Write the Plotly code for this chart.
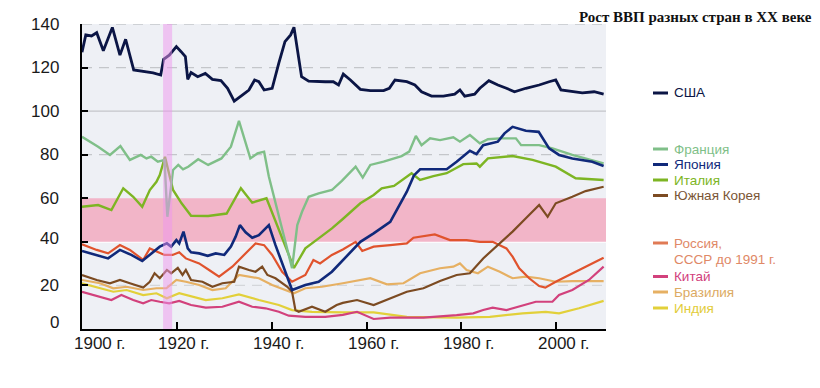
import plotly.graph_objects as go

# ---------------- data (index values) ----------------
usa_years = [1900, 1900.8, 1902, 1903.1, 1904.5, 1906.4, 1908, 1909.2, 1910.9, 1913.6, 1915, 1916.6,
             1917.2, 1918.4, 1919.9, 1920.9, 1921.8, 1922.3, 1923, 1924.4, 1926, 1927.5, 1929.3, 1930.7,
             1932.1, 1933.8, 1935.2, 1936.4, 1937.3, 1938.4, 1940.1, 1941.5, 1942.8, 1944, 1944.7, 1946.3,
             1947.8, 1951.3, 1953, 1954.1, 1955.1, 1956.6, 1958.7, 1960.8, 1963.6, 1964.8, 1966, 1968.5,
             1970.2, 1971.6, 1973.7, 1976.2, 1978.6, 1979.7, 1980.7, 1982.8, 1983.9, 1985.8, 1987.7, 1989.5,
             1991.2, 1993.6, 1996.4, 1998.5, 1999.9, 2001, 2003.4, 2005.5, 2008, 2010]
usa_vals = [127, 135, 134.5, 136, 127.7, 138.4, 125.7, 133, 118.9, 118, 117.6, 116.6,
            123.8, 125.7, 129.6, 127.3, 125, 114.6, 117.7, 115.8, 117.3, 114.6, 114, 110.5,
            104.6, 107.4, 109.7, 114.3, 113.5, 109.7, 110.5, 122, 131.9, 135, 138.5, 115.8,
            113.8, 113.5, 113.5, 112, 117, 114.3, 110, 109.4, 109.4, 110.5, 114.3, 113.5,
            112, 108.9, 106.9, 106.9, 107.8, 109.7, 106.9, 107.8, 110.5, 114, 112, 110.5,
            108.9, 110.5, 112, 113.5, 114.3, 109.7, 108.9, 108.4, 108.9, 107.8]

france_years = [1900, 1903.4, 1905.9, 1908.1, 1910.1, 1912.4, 1913.6, 1914.6, 1916, 1917.4, 1918, 1919.2,
                1920.3, 1921.3, 1922.4, 1923.4, 1924.5, 1926.6, 1929.4, 1931.4, 1933.1, 1935.5, 1937,
                1938.4, 1939.4, 1944.3, 1945.4, 1946.4, 1947.8, 1949.9, 1952.7, 1954.8, 1957.7, 1959.2,
                1960.8, 1963.6, 1967.4, 1969, 1970.4, 1971.6, 1973.4, 1975.5, 1978.3, 1979.7, 1981.8,
                1983.9, 1985.6, 1988.1, 1991.5, 1992.6, 1996.4, 1999.2, 2003.4, 2010]
france_vals = [88.2, 83.7, 79.9, 84, 77.6, 79.9, 78.3, 79.1, 76.8, 77.6, 51.5, 73,
               75.3, 73.3, 74.5, 76.3, 77.9, 75.3, 78.3, 83.7, 95.5, 78.3, 80.6,
               81.4, 70, 27.9, 47.7, 53.8, 60.7, 62.3, 63.8, 68, 74.5, 69.5,
               75.3, 76.8, 79.4, 81.4, 88.6, 84.4, 87.5, 86.7, 88, 86, 89,
               85.2, 87.1, 87.5, 87.5, 84.4, 84.4, 82.9, 79.9, 76]

japan_years = [1900, 1903.1, 1905.5, 1908, 1910.4, 1912.7, 1914.6, 1916.4, 1917.9, 1918.8, 1919.9, 1920.5,
               1921.4, 1922.3, 1923, 1924.7, 1926.5, 1928.2, 1930, 1931.4, 1932.4, 1933.3, 1934.5, 1935.9,
               1937.3, 1938.6, 1939.4, 1940.8, 1944.3, 1947.1, 1949.9, 1952.7, 1955, 1958.7, 1961.5, 1965,
               1968.5, 1970, 1971.3, 1976.9, 1979, 1981.8, 1983.2, 1984.6, 1987.7, 1989.1, 1990.8, 1993.6,
               1996.3, 1998.5, 2000.6, 2003.4, 2007.6, 2010]
japan_vals = [35.8, 34, 32.4, 36.3, 34, 31.2, 34.7, 37.8, 39.3, 37.8, 40.8, 39.3,
              44.7, 37, 35.2, 34.7, 33.6, 34.7, 34, 37.8, 42.4, 47.7, 44.4, 41.9,
              43.1, 45.9, 47.7, 38.5, 17.9, 20.2, 21.7, 26.3, 31.5, 40, 43.9, 49.2,
              63, 70.5, 73.3, 73.3, 76.8, 81.8, 80.3, 84.4, 86, 89.8, 92.8, 91,
              90.5, 82.9, 79.9, 78.3, 76.8, 74.8]

italy_years = [1900, 1903.4, 1906.2, 1908.7, 1910.8, 1912.7, 1914.3, 1915.7, 1916.4, 1917.5, 1919.2, 1921,
               1923, 1926.6, 1930.5, 1933.5, 1935.9, 1938.9, 1944.7, 1947.1, 1949.9, 1952.7, 1955, 1958.7,
               1961.5, 1963.2, 1965.8, 1969.5, 1971.3, 1974.1, 1976.9, 1980.4, 1983.2, 1983.9, 1985.6,
               1990.8, 1995, 1999.9, 2004.1, 2010]
italy_vals = [56.1, 56.9, 54.6, 64.6, 60.7, 56.1, 63.8, 67.6, 70.7, 79, 63.8, 57.7,
              52, 51.9, 53, 64.6, 58, 60, 28, 37, 41.6, 46.2, 50.5, 57.7,
              61.5, 64.6, 65.7, 71.5, 68.4, 70.2, 71.5, 75.7, 76, 74.5, 78.3,
              79.4, 77.6, 74.5, 69.2, 68.4]

korea_years = [1900, 1903.1, 1905.9, 1908, 1910.1, 1912.9, 1914.3, 1915.3, 1916.4, 1917.9, 1918.8, 1920.2,
               1921.2, 1921.9, 1923, 1925.4, 1927.5, 1929.6, 1932.1, 1933.1, 1935.2, 1936.6, 1938, 1939.1,
               1940.8, 1943.3, 1944.3, 1945, 1945.7, 1948.5, 1951.3, 1953.7, 1955, 1958, 1961.5, 1965,
               1968.5, 1972, 1975.5, 1979, 1981.8, 1984.6, 1988.1, 1990.8, 1993.6, 1996.4, 1998.2, 1999.9,
               2003.4, 2006.2, 2010]
korea_vals = [24.8, 22.5, 21, 22.5, 21, 19, 21.7, 25.6, 23.3, 27.1, 25.6, 28.1,
              24.8, 27.1, 22.5, 21.7, 19.4, 21, 21.7, 28.6, 27.1, 26.3, 28.6, 24.8,
              23.3, 19.4, 17.1, 8.7, 7.9, 10.2, 7.9, 11, 12, 13.3, 11, 14.1,
              17.1, 18.7, 22, 24.8, 25.6, 32.4, 39.3, 44.7, 50.8, 56.9, 51.5, 57.7,
              60.7, 63.3, 65.3]

russia_years = [1900, 1903.1, 1905.5, 1908, 1910.1, 1912.9, 1914.3, 1916, 1917.4, 1919.1, 1920.5, 1921.9,
                1924.7, 1926.8, 1928.9, 1931.7, 1934.5, 1936.6, 1938.4, 1940.1, 1942.2, 1944.3, 1947.1,
                1948.8, 1950.2, 1952.7, 1955, 1957.7, 1959.1, 1961.5, 1965, 1968.5, 1969.9, 1974.4, 1977.6,
                1981.1, 1983.9, 1986.6, 1989.5, 1990.8, 1992.2, 1994.3, 1996.4, 1997.7, 1999.9, 2003.4,
                2006.9, 2010]
russia_vals = [38.9, 36.3, 34.7, 38.5, 36.3, 31.7, 37, 35.5, 34, 34, 35.2, 32.4,
               30.1, 27.1, 24, 28.6, 34.7, 39.3, 38.5, 34, 26.3, 21.7, 24.8,
               31.7, 30.1, 34, 36.5, 40, 35.8, 37.8, 38.5, 39.3, 41.9, 43.4, 40.8,
               40.8, 40, 40, 37, 33.2, 27.9, 23.3, 19.7, 19, 21.7, 25.6,
               29.4, 32.7]

china_years = [1900, 1903.8, 1906.2, 1908.3, 1910.8, 1912.9, 1914.6, 1916.4, 1918.4, 1920.5, 1923, 1926.1,
               1929.6, 1933.1, 1935.9, 1938.7, 1941.5, 1943.6, 1947.1, 1951.3, 1955, 1958, 1961.5, 1965,
               1972, 1979, 1982.5, 1984.6, 1986.6, 1989.5, 1992.9, 1995.7, 1999.2, 2000.6, 2003.4, 2006.9,
               2010]
china_vals = [17.1, 14.8, 13.3, 15.6, 13.3, 11.8, 13.3, 12.5, 11.8, 12.9, 11, 9.8,
              10.2, 12.5, 10.2, 9.5, 7.9, 6.1, 5.6, 5.6, 6.5, 7.9, 4.6, 5.2,
              5.2, 6.4, 7.2, 8.7, 9.8, 8.7, 10.7, 12.5, 12.5, 15.6, 17.9, 22.5,
              28.6]

brazil_years = [1900, 1903.8, 1906.6, 1909.4, 1912.9, 1915.7, 1917.8, 1919.9, 1921.9, 1924.7, 1927.5, 1930.3,
                1933.1, 1937.3, 1940.1, 1942.9, 1944.7, 1947.1, 1950.6, 1955, 1960.8, 1964.3, 1967.8,
                1971.3, 1975.5, 1978.3, 1979.7, 1981.1, 1983.5, 1985.6, 1988.1, 1990.8, 1993.6, 1996.4,
                1999.9, 2003.4, 2010]
brazil_vals = [22.5, 21, 18.7, 19.4, 17.9, 18.7, 18.7, 22.5, 21.7, 20.2, 17.9, 18.7,
               24.8, 23.3, 20.2, 17.9, 16.4, 18.7, 19.4, 21, 23.3, 20.5, 21,
               25.6, 27.9, 28.6, 30.1, 27.1, 25.6, 28.6, 26.3, 23.3, 24, 23.3,
               21.7, 22, 22]

india_years = [1900, 1903.8, 1906.6, 1909.4, 1912.9, 1915.7, 1917.9, 1920.5, 1923.3, 1926.1, 1929.6, 1933.1,
               1937.3, 1941.5, 1944.3, 1948.5, 1955, 1961.5, 1968.5, 1979, 1986, 1992.9, 1997.8, 2000.6,
               2004.8, 2010]
india_vals = [21, 18.7, 17.1, 17.9, 15.6, 16.4, 14.1, 16.4, 14.8, 13.3, 14.1, 15.9,
              13.3, 11, 8.7, 7.9, 7.6, 7.6, 5.6, 5.2, 5.6, 7.2, 7.9, 7.2,
              9.5, 12.9]

y_ticks = [0, 20, 40, 60, 80, 100, 120, 140]
x_ticks = [1900, 1920, 1940, 1960, 1980, 2000]
x_tick_labels = ["1900 г.", "1920 г.", "1940 г.", "1960 г.", "1980 г.", "2000 г."]
title_text = "Рост ВВП разных стран в ХХ веке"
band_1917 = [1917.1, 1919.0]
band_values = [40, 60]

# ---------------- styling ----------------
C_USA = "#0b1545"
C_FRA = "#7fbf88"
C_JPN = "#10297a"
C_ITA = "#7db523"
C_KOR = "#7c4b22"
C_RUS = "#e0532d"
C_CHN = "#d2417c"
C_BRA = "#e6b063"
C_IND = "#e2d03a"
TICK_COLOR = "#1a1a1a"
FONT = "Liberation Sans, Arial"

series = [
    ("Индия", india_years, india_vals, C_IND, 2.2),
    ("Бразилия", brazil_years, brazil_vals, C_BRA, 2.2),
    ("Китай", china_years, china_vals, C_CHN, 2.2),
    ("Россия", russia_years, russia_vals, C_RUS, 2.2),
    ("Южная Корея", korea_years, korea_vals, C_KOR, 2.2),
    ("Италия", italy_years, italy_vals, C_ITA, 2.4),
    ("Франция", france_years, france_vals, C_FRA, 2.4),
    ("Япония", japan_years, japan_vals, C_JPN, 2.6),
    ("США", usa_years, usa_vals, C_USA, 2.8),
]

fig = go.Figure()
for name, xs, ys, col, w in series:
    fig.add_trace(go.Scatter(x=xs, y=ys, mode="lines", name=name,
                             line=dict(color=col, width=w), showlegend=False,
                             hoverinfo="x+y+name"))

shapes = []
# grid lines
for v, dash, col in [(140, "10px,7px", "#c4c6ca"), (120, "10px,7px", "#c4c6ca"),
                     (100, "solid", "#c4c6ca"), (80, "10px,7px", "#c4c6ca"),
                     (20, "10px,7px", "#d4d6da")]:
    shapes.append(dict(type="line", xref="paper", x0=0, x1=1, yref="y", y0=v, y1=v,
                       line=dict(color=col, width=1.3, dash=dash), layer="below"))
shapes.append(dict(type="line", xref="paper", x0=0, x1=1, yref="y", y0=40, y1=40,
                   line=dict(color="#ffffff", width=2), layer="below"))
# pink value band
shapes.append(dict(type="rect", xref="paper", x0=0, x1=1, yref="y",
                   y0=band_values[0], y1=band_values[1],
                   fillcolor="#f2b5c8", line=dict(width=0), layer="below"))
# violet band around 1917-1918
shapes.append(dict(type="rect", xref="x", x0=band_1917[0], x1=band_1917[1], yref="paper",
                   y0=0, y1=1, fillcolor="rgba(238,150,238,0.5)", line=dict(width=0),
                   layer="above"))

# page has an 8px body margin: plot area in page pixels is 82..606 x 24..329
OFF = 8
PX0, PX1, PY0, PY1 = 82, 606, 24, 329
PW, PH = PX1 - PX0, PY1 - PY0
FIG_W, FIG_H = 820 - OFF, 388 - OFF


def px2x(px):
    return (px - PX0) / PW


def py2y(py):
    return (PY1 - py) / PH


annotations = []
# tick labels placed like the original (number part centred on the tick)
for i, (tv, tt) in enumerate(zip(x_ticks, x_tick_labels)):
    annotations.append(dict(text=tt, xref="x", yref="paper", x=tv, y=py2y(343),
                            xanchor="center", yanchor="middle", showarrow=False,
                            xshift=17 if i == 0 else 7,
                            font=dict(family=FONT, size=17, color=TICK_COLOR)))
for tv in y_ticks:
    annotations.append(dict(text=str(tv), xref="paper", yref="y", x=px2x(61), y=tv,
                            xanchor="right", yanchor="middle", showarrow=False,
                            yshift=7 if tv == 0 else (3 if tv == 40 else 0),
                            font=dict(family=FONT, size=17, color=TICK_COLOR)))

legend_items = [
    ("США", C_USA, 93, True),
    ("Франция", C_FRA, 149, True),
    ("Япония", C_JPN, 164.5, True),
    ("Италия", C_ITA, 180, True),
    ("Южная Корея", "#7a5535", 195.5, True),
    ("Россия,", "#e08866", 243, True),
    ("СССР до 1991 г.", "#e08866", 259, False),
    ("Китай", C_CHN, 276.5, True),
    ("Бразилия", "#dcaa62", 292, True),
    ("Индия", "#e2cc3a", 308, True),
]
line_cols = {"США": C_USA, "Франция": C_FRA, "Япония": C_JPN, "Италия": C_ITA,
             "Южная Корея": C_KOR, "Россия,": "#e07a55", "Китай": C_CHN,
             "Бразилия": C_BRA, "Индия": C_IND}
for text, tcol, py, has_line in legend_items:
    if has_line:
        shapes.append(dict(type="line", xref="paper", yref="paper",
                           x0=px2x(653), x1=px2x(668), y0=py2y(py), y1=py2y(py),
                           line=dict(color=line_cols[text], width=3)))
    annotations.append(dict(text=text, xref="paper", yref="paper", x=px2x(672), y=py2y(py),
                            xanchor="left", yanchor="middle", showarrow=False,
                            font=dict(family=FONT, size=13.5, color=tcol)))

annotations.append(dict(text="<b>" + title_text + "</b>", xref="paper", yref="paper",
                        x=px2x(813), y=py2y(OFF), xanchor="right", yanchor="top",
                        showarrow=False, borderpad=0,
                        font=dict(family="Liberation Serif, Times New Roman", size=15,
                                  color="#111111")))

fig.update_layout(
    width=FIG_W, height=FIG_H,
    margin=dict(l=PX0 - OFF, r=FIG_W - (PX1 - OFF), t=PY0 - OFF, b=FIG_H - (PY1 - OFF), pad=0),
    paper_bgcolor="white", plot_bgcolor="#eef0f5",
    font=dict(family=FONT, size=17, color=TICK_COLOR),
    shapes=shapes, annotations=annotations, showlegend=False,
)
fig.update_xaxes(range=[1900, 2010.5], tickvals=x_ticks, showticklabels=False,
                 showgrid=False, zeroline=False, showline=True, linecolor="#000000",
                 linewidth=2, ticks="inside", ticklen=7, tickwidth=2, tickcolor="#000000")
fig.update_yaxes(range=[0, 140], tickvals=y_ticks, showticklabels=False, showgrid=False,
                 zeroline=False, showline=True, linecolor="#000000", linewidth=2,
                 ticks="inside", ticklen=6, tickwidth=2, tickcolor="#000000")

fig.write_html("out.html")
